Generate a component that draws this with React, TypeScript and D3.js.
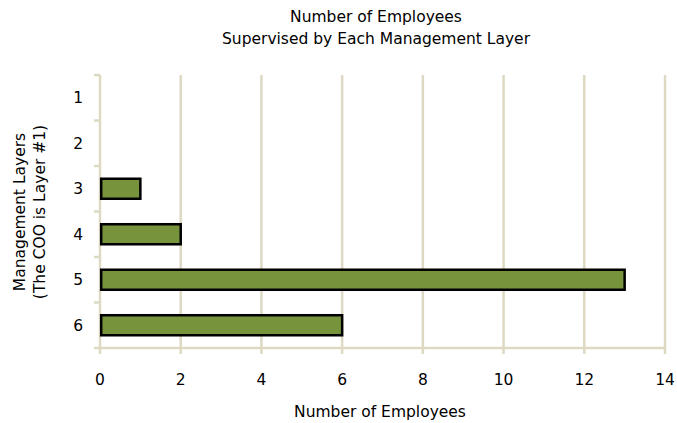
import React from "react";
import * as d3 from "d3";

const categories = ["1", "2", "3", "4", "5", "6"];
const values = [0, 0, 1, 2, 13, 6];
const xTicks = [0, 2, 4, 6, 8, 10, 12, 14];
const titleLines = ["Number of Employees", "Supervised by Each Management Layer"];
const yTitleLines = ["Management Layers", "(The COO is Layer #1)"];
const xTitle = "Number of Employees";

const W = 677;
const H = 423;
const M = { left: 100, right: 12, top: 75, bottom: 75 };
const FONT = "'DejaVu Sans', Verdana, sans-serif";
const GRID = "#DDD9C3";
const FS = 15.5;

export default function App() {
  const x = d3.scaleLinear().domain([0, 14]).range([M.left, W - M.right]);
  const y = d3.scaleBand<string>().domain(categories).range([M.top, H - M.bottom]).paddingInner(0.56).paddingOuter(0.28);
  const step = y.step();
  const bandStarts = categories.map((c) => (y(c) as number) - step * 0.28);
  const bottom = H - M.bottom;
  return (
    <svg width={W} height={H} style={{ position: "absolute", left: 0, top: 0 }} fontFamily={FONT}>
      <rect width={W} height={H} fill="#fff" />
      {xTicks.map((t) => (
        <line key={t} x1={x(t)} x2={x(t)} y1={M.top} y2={bottom + 6} stroke={GRID} strokeWidth={2.5} />
      ))}
      <line x1={M.left - 6} x2={x(14)} y1={bottom} y2={bottom} stroke={GRID} strokeWidth={2.5} />
      {categories.map((c, i) => (
        <line key={c} x1={M.left - 6} x2={M.left} y1={bandStarts[i]} y2={bandStarts[i]} stroke={GRID} strokeWidth={2.5} />
      ))}
      {categories.map((c, i) =>
        values[i] > 0 ? (
          <rect
            key={c}
            x={x(0) + 1.2}
            y={y(c) as number}
            width={x(values[i]) - x(0) - 1.2}
            height={y.bandwidth()}
            fill="#77933C"
            stroke="#000"
            strokeWidth={2.5}
          />
        ) : null
      )}
      {categories.map((c) => (
        <text key={c} x={M.left - 17} y={(y(c) as number) + y.bandwidth() / 2} dy="0.36em" textAnchor="end" fontSize={FS} fill="#000">
          {c}
        </text>
      ))}
      {xTicks.map((t) => (
        <text key={t} x={x(t)} y={385} textAnchor="middle" fontSize={FS} fill="#000">
          {t}
        </text>
      ))}
      {titleLines.map((l, i) => (
        <text key={l} x={376} y={22 + i * 22} textAnchor="middle" fontSize={FS} fill="#000">
          {l}
        </text>
      ))}
      <text x={380} y={417} textAnchor="middle" fontSize={FS} fill="#000">
        {xTitle}
      </text>
      {yTitleLines.map((l, i) => (
        <text key={l} transform={`translate(${25 + i * 20},212) rotate(-90)`} textAnchor="middle" fontSize={FS} fill="#000">
          {l}
        </text>
      ))}
    </svg>
  );
}
